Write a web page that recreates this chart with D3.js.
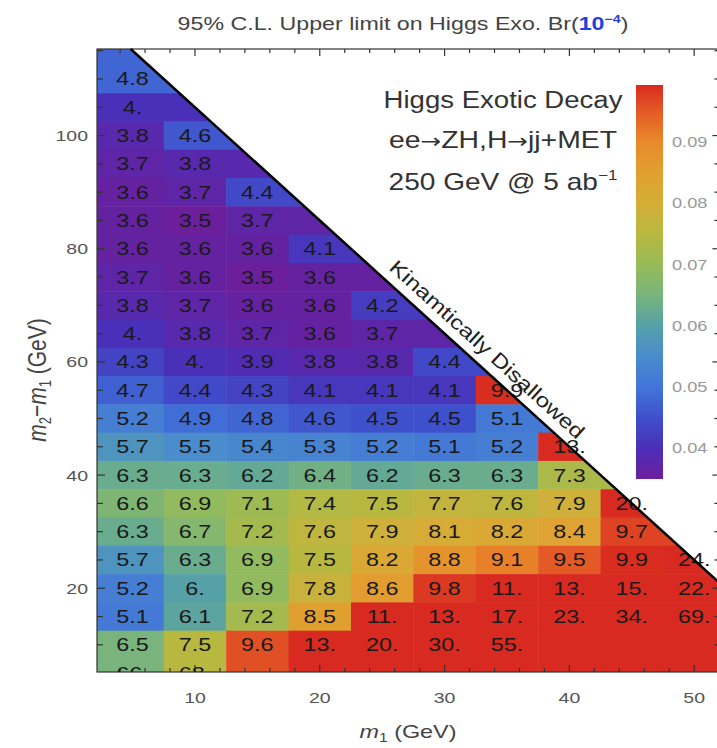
<!DOCTYPE html>
<html><head><meta charset="utf-8">
<script src="https://cdn.jsdelivr.net/npm/d3@7"></script>
<style>body{margin:0;background:#fff;overflow:hidden}</style>
</head><body><svg id="c" width="717" height="748"></svg>
<script>
// ---------------- data ----------------
const m1Values = [5,10,15,20,25,30,35,40,45,50];
const dmValues = [110,105,100,95,90,85,80,75,70,65,60,55,50,45,40,35,30,25,20,15,10];
const limitRows = [
 [4.8],
 [4.0],
 [3.8,4.6],
 [3.7,3.8],
 [3.6,3.7,4.4],
 [3.6,3.5,3.7],
 [3.6,3.6,3.6,4.1],
 [3.7,3.6,3.5,3.6],
 [3.8,3.7,3.6,3.6,4.2],
 [4.0,3.8,3.7,3.6,3.7],
 [4.3,4.0,3.9,3.8,3.8,4.4],
 [4.7,4.4,4.3,4.1,4.1,4.1,9.9],
 [5.2,4.9,4.8,4.6,4.5,4.5,5.1],
 [5.7,5.5,5.4,5.3,5.2,5.1,5.2,13],
 [6.3,6.3,6.2,6.4,6.2,6.3,6.3,7.3],
 [6.6,6.9,7.1,7.4,7.5,7.7,7.6,7.9,20],
 [6.3,6.7,7.2,7.6,7.9,8.1,8.2,8.4,9.7],
 [5.7,6.3,6.9,7.5,8.2,8.8,9.1,9.5,9.9,24],
 [5.2,6.0,6.9,7.8,8.6,9.8,11,13,15,22],
 [5.1,6.1,7.2,8.5,11,13,17,23,34,69],
 [6.5,7.5,9.6,13,20,30,55,null,null,null]
];
const bottomRowDm = 5;
const bottomRowLimits = [66,68];
const xTicks = [10,20,30,40,50];
const yTicks = [20,40,60,80,100];
const barTicks = [0.04,0.05,0.06,0.07,0.08,0.09];
const barDomain = [0.035,0.0993];
const colorStopValues = [0.035,0.04,0.045,0.05,0.055,0.06,0.065,0.07,0.075,0.08,0.085,0.09,0.095,0.0993];
const colorStopColors = ["#6c1f9a","#4a2fb8","#3f50cc","#4275d8","#4a8ccc","#56a0a8","#78b47c","#98bb58","#b8b840","#d4ae38","#e0a030","#e88a2a","#e45a26","#d82a20"];
const higgsMass = 125;
const legendLines = [["Higgs Exotic Decay"],["ee","\u2192","ZH,H","\u2192","jj+MET"],["250 GeV @ 5 ab"]];
const titleText = "95% C.L. Upper limit on Higgs Exo. Br(";
const disallowedText = "Kinamtically Disallowed";

// ---------------- setup ----------------
const FONT = "'Liberation Sans', Arial, Helvetica, sans-serif";
const svg = d3.select("#c").style("font-family", FONT);
const xDom = [2.15, 52.1], yDom = [5.2, 115.3];
const x = d3.scaleLinear().domain(xDom).range([97, 720.4]);
const y = d3.scaleLinear().domain(yDom).range([672, 49]);
const color = d3.scaleLinear().domain(colorStopValues).range(colorStopColors).interpolate(d3.interpolateRgb).clamp(true);
const fmt = v => v >= 10 ? Math.round(v) + "." : (Number.isInteger(v) ? v + "." : v.toFixed(1));

const defs = svg.append("defs");
defs.append("clipPath").attr("id","allowed").append("polygon")
  .attr("points", [[xDom[0],yDom[0]],[xDom[0],yDom[1]],[(higgsMass-yDom[1])/2,yDom[1]],[xDom[1],higgsMass-2*xDom[1]],[xDom[1],yDom[0]]]
    .map(p => x(p[0]) + "," + y(p[1])).join(" "));
defs.append("clipPath").attr("id","plotArea").append("rect")
  .attr("x", x(xDom[0])).attr("y", y(yDom[1])).attr("width", x(xDom[1]) - x(xDom[0])).attr("height", y(yDom[0]) - y(yDom[1]));

// ---------------- cells ----------------
const cells = [];
limitRows.forEach((row, i) => row.forEach((v, j) => {
  const m1 = m1Values[j], dm = dmValues[i];
  cells.push({
    v, m1, dm,
    x0: j === 0 ? xDom[0] : m1 - 2.5,
    x1: j === row.length - 1 ? xDom[1] : m1 + 2.5,
    y1: i === 0 ? yDom[1] : dm + 2.5,
    y0: i === limitRows.length - 1 ? yDom[0] : dm - 2.5
  });
}));
svg.append("g").attr("clip-path","url(#allowed)").selectAll("rect").data(cells).join("rect")
  .attr("x", d => x(d.x0)).attr("y", d => y(d.y1))
  .attr("width", d => x(d.x1) - x(d.x0) + 0.5).attr("height", d => y(d.y0) - y(d.y1) + 0.5)
  .attr("fill", d => d.v == null ? color(barDomain[1]) : color(d.v / 100));

// ---------------- frame & ticks ----------------
const frame = svg.append("g").attr("stroke","#333").attr("stroke-width",1.2);
const xMinor = d3.range(4, 52, 2), yMinor = d3.range(10, 116, 5);
xMinor.forEach(t => {
  const L = t % 10 === 0 ? 7 : 4;
  frame.append("line").attr("x1", x(t)).attr("x2", x(t)).attr("y1", y(yDom[0])).attr("y2", y(yDom[0]) - L);
  frame.append("line").attr("x1", x(t)).attr("x2", x(t)).attr("y1", y(yDom[1])).attr("y2", y(yDom[1]) + L);
});
yMinor.forEach(t => {
  const L = t % 20 === 0 ? 8 : 6;
  frame.append("line").attr("y1", y(t)).attr("y2", y(t)).attr("x1", x(xDom[0])).attr("x2", x(xDom[0]) + L);
  frame.append("line").attr("y1", y(t)).attr("y2", y(t)).attr("x1", x(xDom[1])).attr("x2", x(xDom[1]) - L);
});
frame.append("rect").attr("x", x(xDom[0])).attr("y", y(yDom[1]))
  .attr("width", x(xDom[1]) - x(xDom[0])).attr("height", y(yDom[0]) - y(yDom[1])).attr("fill","none");

// helper for horizontally stretched text
function stext(parent, px, py, str, size, sx, anchor, fill) {
  const g = parent.append("g").attr("transform", `translate(${px},${py}) scale(${sx},1)`);
  return g.append("text").attr("text-anchor", anchor).attr("font-size", size).attr("fill", fill).text(str);
}

// ---------------- cell labels ----------------
const labels = svg.append("g").attr("clip-path","url(#plotArea)");
cells.filter(d => d.v != null).forEach(d => stext(labels, x(d.m1), y(d.dm) + 6.5, fmt(d.v), 18, 1.3, "middle", "#1a1a1a"));
bottomRowLimits.forEach((v, j) => stext(labels, x(m1Values[j]), y(bottomRowDm) + 6.5, fmt(v), 18, 1.3, "middle", "#1a1a1a"));

// ---------------- kinematic line ----------------
svg.append("line")
  .attr("x1", x((higgsMass - yDom[1]) / 2)).attr("y1", y(yDom[1]))
  .attr("x2", x(xDom[1])).attr("y2", y(higgsMass - 2 * xDom[1]))
  .attr("stroke","#000").attr("stroke-width",2.5);

const angle = Math.atan2(y(higgsMass - 2*50) - y(higgsMass - 2*10), x(50) - x(10)) * 180 / Math.PI;
const am = 32.5;
const dg = svg.append("g").attr("transform", `translate(${x(am)},${y(higgsMass - 2*am)}) rotate(${angle}) translate(0,-10)`);
const dt = dg.append("text").attr("text-anchor","middle").attr("font-size",20).attr("fill","#222").text(disallowedText);
const dl = dt.node().getComputedTextLength();
dt.attr("transform", `scale(${255/dl},1)`);

// ---------------- axes labels ----------------
xTicks.forEach(t => stext(svg, x(t), 703, String(t), 15, 1.3, "middle", "#555"));
yTicks.forEach(t => stext(svg, 88, y(t) + 5.5, String(t), 15, 1.3, "end", "#555"));

const xt = stext(svg, 408, 738, "", 18, 1.3, "middle", "#444");
xt.append("tspan").attr("font-style","italic").text("m");
xt.append("tspan").attr("font-size",12).attr("dy",4).text("1");
xt.append("tspan").attr("dy",-4).text(" (GeV)");

const yg = svg.append("g").attr("transform","translate(46,380) rotate(-90) scale(1,1.25)");
const yt = yg.append("text").attr("text-anchor","middle").attr("font-size",21).attr("fill","#444");
yt.append("tspan").attr("font-style","italic").text("m");
yt.append("tspan").attr("font-size",13).attr("dy",4).text("2");
yt.append("tspan").attr("dy",-4).text("\u2212");
yt.append("tspan").attr("font-style","italic").text("m");
yt.append("tspan").attr("font-size",13).attr("dy",4).text("1");
yt.append("tspan").attr("dy",-4).text(" (GeV)");

// ---------------- title ----------------
const tg = svg.append("g").attr("transform","translate(403,30)");
const tt = tg.append("text").attr("text-anchor","middle").attr("font-size",18).attr("fill","#444");
tt.append("tspan").text(titleText);
tt.append("tspan").attr("fill","#1f3fe0").attr("font-weight","bold").text("10");
tt.append("tspan").attr("fill","#1f3fe0").attr("font-weight","bold").attr("font-size",11).attr("dy",-7).text("\u22124");
tt.append("tspan").attr("dy",7).text(")");
const tl = tt.node().getComputedTextLength();
tt.attr("transform", `scale(${451/tl},1)`);

// ---------------- legend text ----------------
const legendBase = [108, 148, 190], legendWidth = [239, 228, 229];
legendLines.forEach((parts, i) => {
  const g = svg.append("g").attr("transform", `translate(503,${legendBase[i]})`);
  const t = g.append("text").attr("text-anchor","middle").attr("font-size",23).attr("fill","#333");
  parts.forEach(s => {
    const sp = t.append("tspan").text(s);
    if (s === "\u2192") sp.attr("font-family","'DejaVu Sans', sans-serif").attr("font-size",20);
  });
  if (i === 2) t.append("tspan").attr("font-size",14).attr("dy",-10).text("\u22121");
  const w = t.node().getComputedTextLength();
  t.attr("transform", `scale(${legendWidth[i]/w},1)`);
});

// ---------------- colorbar ----------------
const by = d3.scaleLinear().domain(barDomain).range([479, 85]);
const grad = defs.append("linearGradient").attr("id","bar").attr("x1",0).attr("x2",0).attr("y1",1).attr("y2",0);
colorStopValues.forEach((v, i) => grad.append("stop")
  .attr("offset", (v - barDomain[0]) / (barDomain[1] - barDomain[0])).attr("stop-color", colorStopColors[i]));
svg.append("rect").attr("x",636).attr("width",27).attr("y",by(barDomain[1])).attr("height",by(barDomain[0]) - by(barDomain[1]))
  .attr("fill","url(#bar)");
barTicks.forEach(t => stext(svg, 672, by(t) + 5, t.toFixed(2), 14, 1.3, "start", "#999"));
</script>
</body></html>
